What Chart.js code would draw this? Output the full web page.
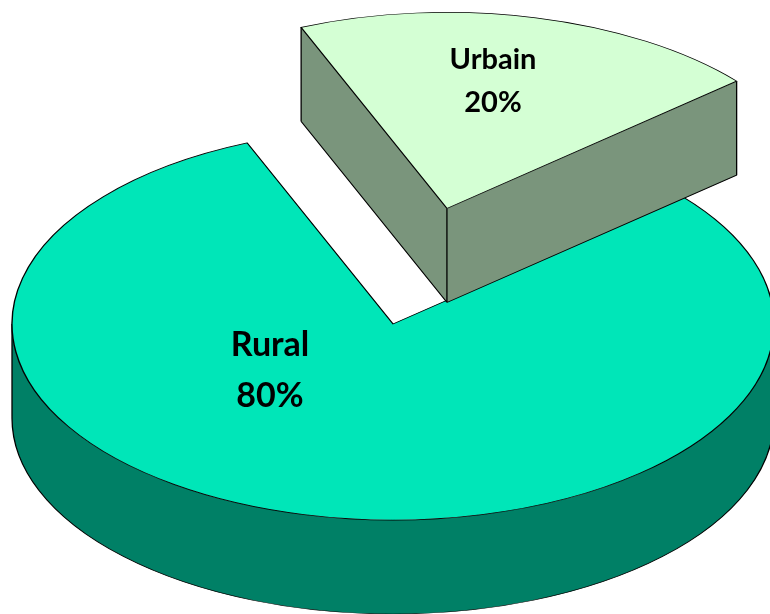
<!DOCTYPE html>
<html>
<head>
<meta charset="utf-8">
<style>
  html, body { margin: 0; padding: 0; background: #fff; }
  canvas { display: block; }
</style>
<script src="https://cdn.jsdelivr.net/npm/chart.js@4/dist/chart.umd.js"></script>
</head>
<body>
<canvas id="grafico" width="770" height="614"></canvas>
<script>
const categorias = ['Rural', 'Urbain'];
const valores = [80, 20];
const coresTopo = ['#00E6B8', '#D4FFD4'];
const coresLado = ['#008066', '#7A957C'];

const achatamento = 0.5145; // tilt of the pie
const profundidade = 94;    // height of the wall in px
const explosoes = [0, 231]; // how far each slice is pulled out
const rotacao = 49.5;

// text centres, relative to the centre of the pie
const posLabels = [
  [[-123, 21], [-123, 72]],
  [[100, -264], [100, -221]]
];
const tamanhoFonte = [34, 29];

function contemAngulo(arc, a) {
  const rel = ((a - arc.startAngle) % (2 * Math.PI) + 2 * Math.PI) % (2 * Math.PI);
  return rel < arc.endAngle - arc.startAngle;
}

function desenharParede(ctx, arc, i) {
  const total = profundidade / achatamento;
  const r = arc.outerRadius;
  const fundo = arc.y + total;
  const temFrente = contemAngulo(arc, Math.PI / 2);

  // the two cut faces, the top of the slice covers what is hidden
  ctx.fillStyle = coresLado[i];
  ctx.beginPath();
  [arc.startAngle, arc.endAngle].forEach(a => {
    const x = arc.x + Math.cos(a) * r;
    const y = Math.sin(a) * r;
    ctx.moveTo(arc.x, arc.y);
    ctx.lineTo(x, arc.y + y);
    ctx.lineTo(x, fundo + y);
    ctx.lineTo(arc.x, fundo);
    ctx.closePath();
  });
  ctx.fill();

  // the rim, only the front half can be seen
  if (temFrente) {
    ctx.beginPath();
    ctx.arc(arc.x, arc.y, r, 0, Math.PI);
    ctx.arc(arc.x, fundo, r, Math.PI, 0, true);
    ctx.closePath();
    ctx.fill();
  }

  ctx.strokeStyle = '#000';
  ctx.lineWidth = 1.3;
  ctx.beginPath();

  // bottom edge of the two cut faces
  [arc.startAngle, arc.endAngle].forEach(a => {
    ctx.moveTo(arc.x, fundo);
    ctx.lineTo(arc.x + Math.cos(a) * r, fundo + Math.sin(a) * r);
  });

  if (temFrente) {
    ctx.moveTo(arc.x + r, fundo);
    ctx.arc(arc.x, fundo, r, 0, Math.PI);
  }

  // vertical edges: the corners and, when inside the slice, the far left and right
  const angulos = [arc.startAngle, arc.endAngle];
  [0, Math.PI].forEach(a => {
    if (contemAngulo(arc, a)) angulos.push(a);
  });
  ctx.moveTo(arc.x, arc.y);
  ctx.lineTo(arc.x, fundo);
  angulos.forEach(a => {
    const x = arc.x + Math.cos(a) * r;
    const y = arc.y + Math.sin(a) * r;
    ctx.moveTo(x, y);
    ctx.lineTo(x, y + total);
  });
  ctx.stroke();
}

const pizza3d = {
  id: 'pizza3d',
  beforeDatasetsDraw(chart) {
    const ctx = chart.ctx;
    const arcos = chart.getDatasetMeta(0).data;
    ctx.save();
    ctx.translate(0, arcos[0].y);
    ctx.scale(1, achatamento);
    ctx.translate(0, -arcos[0].y);
    arcos.forEach((arc, i) => {
      const meio = (arc.startAngle + arc.endAngle) / 2;
      ctx.save();
      ctx.translate(Math.cos(meio) * explosoes[i], Math.sin(meio) * explosoes[i]);
      desenharParede(ctx, arc, i);
      arc.draw(ctx);
      ctx.restore();
    });
    ctx.restore();
    return false;
  },
  afterDraw(chart) {
    const ctx = chart.ctx;
    const arco = chart.getDatasetMeta(0).data[0];
    ctx.save();
    ctx.fillStyle = '#000';
    ctx.textAlign = 'center';
    ctx.textBaseline = 'middle';
    categorias.forEach((nome, i) => {
      const [l1, l2] = posLabels[i];
      ctx.font = 'bold ' + tamanhoFonte[i] + 'px Lato';
      ctx.fillText(nome, arco.x + l1[0], arco.y + l1[1]);
      ctx.fillText(valores[i] + '%', arco.x + l2[0], arco.y + l2[1]);
    });
    ctx.restore();
  }
};

new Chart(document.getElementById('grafico').getContext('2d'), {
  type: 'pie',
  data: {
    labels: categorias,
    datasets: [{
      data: valores,
      backgroundColor: coresTopo,
      borderColor: '#000',
      borderWidth: 1.4,
      borderJoinStyle: 'miter',
      radius: 381
    }]
  },
  options: {
    responsive: false,
    animation: false,
    rotation: rotacao,
    layout: { padding: { left: 16, top: 34 } },
    plugins: {
      legend: { display: false },
      tooltip: { enabled: false }
    }
  },
  plugins: [pizza3d]
});
</script>
</body>
</html>
